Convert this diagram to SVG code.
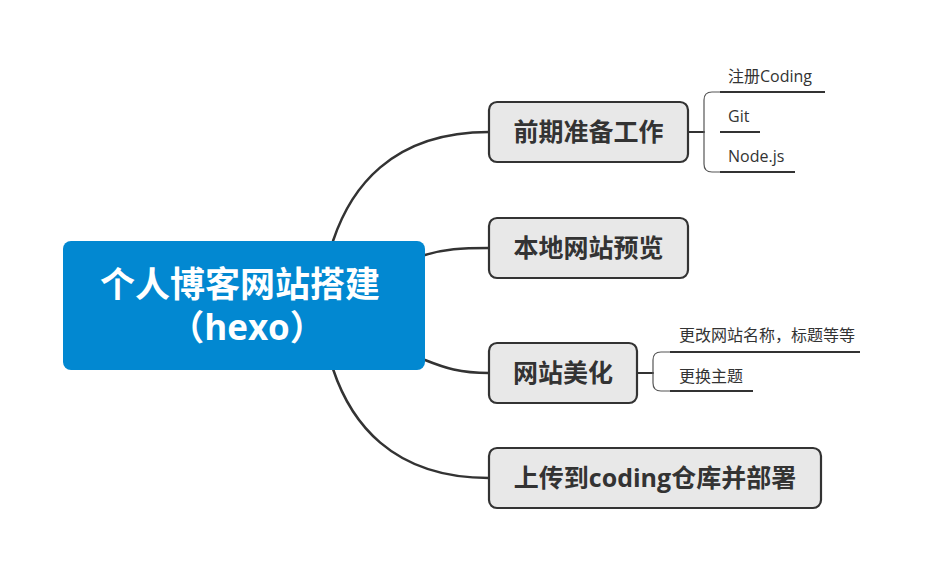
<svg xmlns="http://www.w3.org/2000/svg" width="928" height="572" viewBox="0 0 928 572">
<style>
.conn{fill:none;stroke:#333;stroke-width:2.5;stroke-linecap:round}
.brk{fill:none;stroke:#555;stroke-width:1.2}
.ul{stroke:#333;stroke-width:1.8}
.node{fill:#e8e8e8;stroke:#333;stroke-width:2.2}
.nt{font-family:"Open Sans","Noto Sans CJK SC",sans-serif;font-weight:bold;font-size:25px;fill:#333;text-anchor:middle}
.st{font-family:"Open Sans","Noto Sans CJK SC",sans-serif;font-size:16px;fill:#333}
.ct{font-family:"Open Sans","Noto Sans CJK SC",sans-serif;font-weight:bold;font-size:35px;fill:#fff;text-anchor:middle}
</style>
<rect width="928" height="572" fill="#fff"/>
<g id="connectors">
<path class="conn" d="M333,241 C350,190 390,132 489,132"/>
<path class="conn" d="M425,255 C445,249 460,248 489,248"/>
<path class="conn" d="M425,360 C445,368 460,373 489,373"/>
<path class="conn" d="M333,369 C350,420 390,478 489,478"/>
<path class="conn" d="M688,132 L704,132" style="stroke-width:2"/>
<path class="brk" d="M720,92 L712,92 Q704,92 704,100 L704,164 Q704,172 712,172 L720,172"/>
<path class="conn" d="M637,373 L653,373" style="stroke-width:2"/>
<path class="brk" d="M670,352 L661,352 Q653,352 653,360 L653,383 Q653,391 661,391 L670,391"/>
</g>
<g id="center">
<rect x="63" y="241" width="362" height="129" rx="8" fill="#0288d1"/>
<text class="ct" x="240" y="297">个人博客网站搭建</text>
<text class="ct" x="247" y="340">（hexo）</text>
</g>
<g id="n1">
<rect class="node" x="489" y="102" width="199" height="60" rx="8"/>
<text class="nt" x="588.5" y="141">前期准备工作</text>
</g>
<g id="n1a">
<text class="st" x="728" y="82">注册Coding</text>
<line class="ul" x1="720" y1="92" x2="825" y2="92"/>
</g>
<g id="n1b">
<text class="st" x="728" y="122">Git</text>
<line class="ul" x1="720" y1="132" x2="760" y2="132"/>
</g>
<g id="n1c">
<text class="st" x="728" y="162">Node.js</text>
<line class="ul" x1="720" y1="172" x2="795" y2="172"/>
</g>
<g id="n2">
<rect class="node" x="489" y="218" width="199" height="60" rx="8"/>
<text class="nt" x="588.5" y="257">本地网站预览</text>
</g>
<g id="n3">
<rect class="node" x="489" y="343" width="148" height="60" rx="8"/>
<text class="nt" x="563" y="382">网站美化</text>
</g>
<g id="n3a">
<text class="st" x="679" y="341">更改网站名称，标题等等</text>
<line class="ul" x1="670" y1="352" x2="860" y2="352"/>
</g>
<g id="n3b">
<text class="st" x="679" y="382">更换主题</text>
<line class="ul" x1="670" y1="391" x2="753" y2="391"/>
</g>
<g id="n4">
<rect class="node" x="489" y="448" width="332" height="60" rx="8"/>
<text class="nt" x="655" y="487">上传到coding仓库并部署</text>
</g>
</svg>
